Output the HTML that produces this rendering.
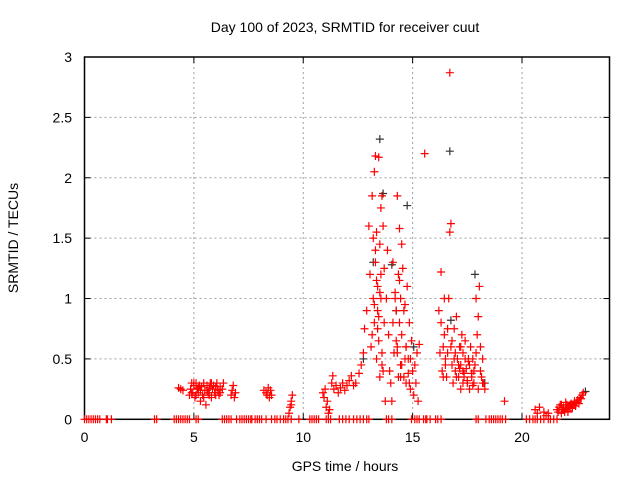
<!DOCTYPE html>
<html><head><meta charset="utf-8"><style>
body{margin:0;background:#fff;}
svg text{font-family:"Liberation Sans",sans-serif;font-size:14px;fill:#000;}
</style></head><body>
<svg id="chart" width="640" height="480" xmlns="http://www.w3.org/2000/svg">
<text x="345" y="32" text-anchor="middle">Day 100 of 2023, SRMTID for receiver cuut</text>
<text x="345" y="471" text-anchor="middle">GPS time / hours</text>
<text transform="translate(18,238) rotate(-90)" text-anchor="middle">SRMTID / TECUs</text>
<g id="grid"></g>
<g id="axes"></g>
<g id="black"></g>
<g id="red"></g>
</svg>
<script>
const xTicks=[0,5,10,15,20];
const yTicks=[0,0.5,1,1.5,2,2.5,3];
const yTickLabels=["0","0.5","1","1.5","2","2.5","3"];
const zeroHours=[0,0.1,0.2,0.3,0.4,0.5,0.6,0.7,1.0,1.05,1.23,3.2,3.3,4.1,4.2,4.3,4.4,4.5,4.6,4.7,4.8,5.1,5.2,6.3,6.4,6.5,6.6,6.7,6.95,7.1,7.2,7.3,7.4,7.5,7.6,7.65,7.8,7.9,8.0,8.1,8.3,8.55,8.7,8.8,8.95,9.1,9.2,9.3,9.45,9.8,10.3,10.4,10.5,10.6,10.7,11.05,11.15,11.25,11.65,11.8,11.95,12.1,12.3,12.45,12.6,12.75,12.9,13.0,13.8,13.9,14.05,14.95,15.1,15.2,15.3,15.5,15.6,15.65,15.8,16.05,16.15,16.3,17.9,18.0,18.35,18.5,18.6,18.7,18.8,18.9,19.0,19.1,19.25,20.2,20.35,20.5,20.6,20.7,20.85,21.0,21.2,21.3,21.45,21.6];
const redHours=[4.3,4.4,4.5,4.8,4.85,4.9,4.95,5.0,5.05,5.1,5.15,5.2,5.25,5.3,5.35,5.4,5.45,5.5,5.55,5.6,5.65,5.7,5.75,5.8,5.85,5.9,5.95,6.0,6.05,6.1,6.15,6.2,6.3,6.35,6.7,6.75,6.8,6.85,6.9,8.2,8.3,8.35,8.4,8.45,8.5,8.55,9.35,9.4,9.45,9.5,9.45,10.9,10.95,11.0,11.05,11.1,11.15,11.2,11.3,11.35,11.4,11.5,11.6,11.7,11.8,11.9,12.0,12.1,12.2,12.3,12.4,12.55,12.65,12.75,12.8,12.9,13.0,13.05,13.1,13.15,13.2,13.2,13.25,13.25,13.3,13.3,13.35,13.35,13.4,13.4,13.45,13.45,13.5,13.5,13.55,13.55,13.6,13.6,13.65,13.7,13.7,13.75,13.8,13.85,13.9,13.95,14.0,14.05,14.1,14.15,14.2,14.25,14.3,14.3,14.35,14.35,14.4,14.4,14.45,14.45,14.5,14.5,14.55,14.6,14.65,14.7,14.7,14.75,14.8,14.85,14.9,14.95,15.0,15.05,15.1,15.15,15.2,15.25,15.3];
const redValues=[0.26,0.25,0.24,0.2,0.25,0.3,0.22,0.28,0.18,0.3,0.25,0.22,0.28,0.15,0.27,0.2,0.3,0.24,0.12,0.28,0.22,0.26,0.3,0.18,0.25,0.28,0.22,0.27,0.3,0.24,0.2,0.27,0.25,0.3,0.2,0.24,0.28,0.18,0.22,0.24,0.22,0.2,0.26,0.18,0.24,0.2,0.05,0.1,0.15,0.2,0.12,0.22,0.18,0.25,0.1,0.15,0.05,0.08,0.3,0.36,0.25,0.28,0.22,0.26,0.3,0.24,0.28,0.32,0.36,0.28,0.3,0.38,0.45,0.55,0.75,0.9,1.6,1.2,0.6,1.85,1.0,1.5,2.05,0.8,1.3,2.18,0.5,1.55,0.9,1.1,2.17,0.65,1.45,0.35,1.75,1.0,1.85,0.55,1.6,1.25,0.8,0.15,1.0,1.4,0.7,0.4,0.3,0.15,1.3,0.55,1.05,0.9,1.85,0.6,1.2,0.35,1.58,0.8,1.0,0.45,1.45,0.7,1.25,0.35,0.95,0.6,0.3,1.1,0.5,0.8,0.25,0.65,0.4,0.2,0.45,0.3,0.55,0.15,0.62,0.4,0.25];
const redHoursLate=[15.55,16.2,16.25,16.3,16.3,16.35,16.4,16.45,16.5,16.55,16.6,16.65,16.7,16.7,16.75,16.75,16.8,16.85,16.9,16.95,17.0,17.05,17.1,17.15,17.2,17.2,17.25,17.3,17.3,17.35,17.4,17.45,17.5,17.55,17.6,17.65,17.7,17.75,17.8,17.85,17.9,17.95,18.0,18.05,18.1,18.15,18.2,18.25,18.3,19.2,20.6,20.7,20.8,21.0,21.1,21.2,21.6,21.65,21.7,21.75,21.8,21.85,21.9,21.95,22.0,22.05,22.1,22.15,22.2,22.25,22.3,22.35,22.4,22.45,22.5,22.55,22.6,22.65,22.7,22.75,22.8];
const redValuesLate=[2.2,0.9,0.55,0.8,1.22,0.4,0.6,1.0,0.5,0.35,0.75,1.0,1.55,2.87,1.62,0.6,0.45,0.3,0.75,0.4,0.85,0.5,0.35,0.6,0.25,0.45,0.7,0.3,0.55,0.38,0.65,0.42,0.3,0.5,0.25,0.6,0.35,0.28,0.4,0.45,1.0,0.7,0.85,1.1,0.6,0.35,0.5,0.3,0.25,0.15,0.08,0.05,0.1,0.06,0.03,0.05,0.08,0.06,0.1,0.12,0.05,0.08,0.1,0.06,0.09,0.12,0.07,0.11,0.1,0.13,0.09,0.12,0.15,0.11,0.14,0.16,0.13,0.18,0.17,0.2,0.22];
const redHoursExtra=[4.9,5.0,5.1,5.2,5.3,5.45,5.6,5.7,5.8,6.0,6.1,6.2,13.15,13.25,13.35,13.45,13.55,13.65,13.3,13.4,13.5,13.6,14.1,14.2,14.3,14.4,14.5,14.6,14.7,14.8,14.9,14.25,14.45,14.65,14.85,16.4,16.5,16.6,16.8,16.9,17.0,17.1,17.2,17.3,17.4,17.5,17.6,17.7,17.8,17.9,18.0,18.1,18.2,16.45,16.95,17.15,17.35,17.55,17.75,21.8,21.9,22.0,22.1,22.2,22.3,22.4];
const redValuesExtra=[0.22,0.3,0.2,0.26,0.24,0.18,0.24,0.2,0.3,0.2,0.25,0.22,0.7,0.95,1.15,0.85,1.2,0.4,1.4,0.75,1.05,0.45,0.8,1.0,0.55,1.15,0.45,0.9,0.6,0.38,0.5,0.65,0.35,0.5,0.3,0.35,0.45,0.55,0.65,0.5,0.35,0.45,0.6,0.4,0.5,0.32,0.45,0.38,0.3,0.55,0.25,0.4,0.3,0.7,0.55,0.42,0.35,0.48,0.5,0.12,0.08,0.14,0.06,0.12,0.1,0.14];
const blackHours=[12.75,13.2,13.5,13.65,14.05,14.25,14.75,15.05,16.7,16.75,17.85,18.3,22.9];
const blackValues=[0.5,1.3,2.32,1.87,1.28,0.9,1.77,0.6,2.22,0.82,1.2,0.3,0.23];
const X0=84.5,X1=609.5,Y0=419.3,Y1=57;
function xs(h){return X0+(X1-X0)*h/24;}
function ys(v){return Y0-(Y0-Y1)*v/3;}
const NS="http://www.w3.org/2000/svg";
function mk(tag,attrs,parent){const e=document.createElementNS(NS,tag);for(const k in attrs)e.setAttribute(k,attrs[k]);parent.appendChild(e);return e;}
const grid=document.getElementById('grid'),axes=document.getElementById('axes');
xTicks.forEach(t=>{const x=xs(t);
 if(t>0){const g=mk('line',{x1:x,x2:x,y1:Y1,y2:Y0,stroke:'#a0a0a0','stroke-dasharray':'2,3'},grid);
 
 }
 mk('line',{x1:x,x2:x,y1:Y0,y2:Y0-6,stroke:'#000'},axes);
 mk('line',{x1:x,x2:x,y1:Y1,y2:Y1+6,stroke:'#000'},axes);
 const tx=mk('text',{x:x,y:442,'text-anchor':'middle'},axes);tx.textContent=t;
 
 });
yTicks.forEach((t,i)=>{const y=ys(t);
 if(t>0&&t<3){const g=mk('line',{x1:X0,x2:X1,y1:y,y2:y,stroke:'#a0a0a0','stroke-dasharray':'2,3'},grid);
 
 }
 mk('line',{x1:X0,x2:X0+6,y1:y,y2:y,stroke:'#000'},axes);
 mk('line',{x1:X1,x2:X1-6,y1:y,y2:y,stroke:'#000'},axes);
 const tx=mk('text',{x:72,y:y+5,'text-anchor':'end'},axes);tx.textContent=yTickLabels[i];
 
 });
mk('rect',{x:X0,y:Y1,width:X1-X0,height:Y0-Y1,fill:'none',stroke:'#000','stroke-width':1.5},axes);
function plus(g,h,v,c){const x=xs(h),y=ys(v);
 const p=mk('path',{d:`M${x-4},${y}H${x+4}M${x},${y-4}V${y+4}`,stroke:c,'stroke-width':1.2,fill:'none'},g);
 
 }
const bg=document.getElementById('black'),rg=document.getElementById('red');
blackHours.forEach((h,i)=>plus(bg,h,blackValues[i],'#333'));
zeroHours.forEach(h=>plus(rg,h,0,'#f00'));
redHours.forEach((h,i)=>plus(rg,h,redValues[i],'#f00'));
redHoursLate.forEach((h,i)=>plus(rg,h,redValuesLate[i],'#f00'));
redHoursExtra.forEach((h,i)=>plus(rg,h,redValuesExtra[i],'#f00'));
</script>
</body></html>
